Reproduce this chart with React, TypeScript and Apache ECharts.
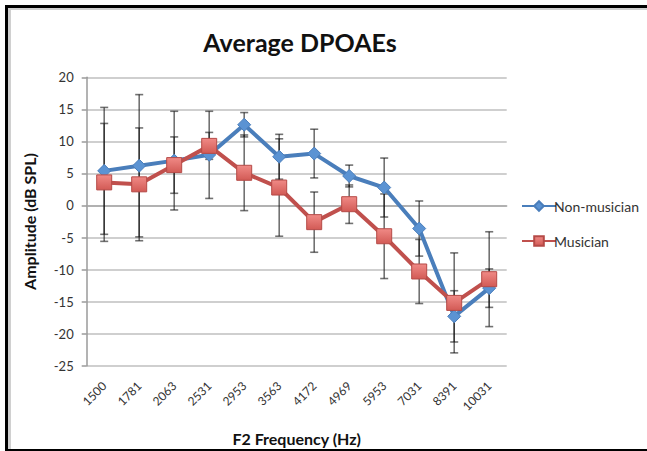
import React, { useEffect, useRef } from "react";
import * as echarts from "echarts";

const categories = ["1500", "1781", "2063", "2531", "2953", "3563", "4172", "4969", "5953", "7031", "8391", "10031"];
const nonMusician = [5.4, 6.2, 7.0, 7.9, 12.6, 7.6, 8.1, 4.6, 2.8, -3.6, -17.3, -12.9];
const musician = [3.6, 3.3, 6.3, 9.3, 5.1, 2.8, -2.6, 0.2, -4.8, -10.3, -15.2, -11.5];
const nonMusicianErr = [9.9, 11.1, 7.7, 6.8, 1.9, 3.5, 3.8, 1.7, 4.6, 4.3, 4.0, 3.0];
const musicianErr = [9.2, 8.8, 4.4, 2.1, 5.9, 7.6, 4.7, 3.0, 6.6, 5.0, 7.8, 7.4];

const FONT = "Lato, 'Open Sans', sans-serif";

function errorSeries(name: string, values: number[], errs: number[]) {
  const data = values.map((v, i) => [i, v - errs[i], v + errs[i]]);
  return {
    type: "custom",
    name: name + " err",
    z: 1,
    silent: true,
    renderItem: (params: any, api: any) => {
      const x = api.value(0);
      const lo = api.coord([x, api.value(1)]);
      const hi = api.coord([x, api.value(2)]);
      const hw = 4;
      const style = { stroke: "rgba(20,20,20,0.6)", lineWidth: 1.6 };
      return {
        type: "group",
        children: [
          { type: "line", shape: { x1: lo[0], y1: lo[1], x2: hi[0], y2: hi[1] }, style },
          { type: "line", shape: { x1: lo[0] - hw, y1: lo[1], x2: lo[0] + hw, y2: lo[1] }, style },
          { type: "line", shape: { x1: hi[0] - hw, y1: hi[1], x2: hi[0] + hw, y2: hi[1] }, style },
        ],
      };
    },
    encode: { x: 0, y: [1, 2] },
    data,
  };
}

export default function App() {
  const ref = useRef<HTMLDivElement>(null);
  useEffect(() => {
    if (!ref.current) return;
    const chart = echarts.init(ref.current, null, { renderer: "svg" });
    const blue = "#4A7EBB";
    const red = "#C0504D";
    chart.setOption({
      animation: false,
      backgroundColor: "#ffffff",
      title: {
        text: "Average DPOAEs",
        left: 295,
        textAlign: "center",
        top: 24,
        textStyle: { fontFamily: FONT, fontSize: 25, fontWeight: "bold", color: "#111" },
      },
      legend: {
        orient: "vertical",
        left: 516,
        top: 194,
        itemWidth: 34,
        itemHeight: 12,
        itemGap: 21,
        data: ["Non-musician", "Musician"],
        textStyle: { fontFamily: FONT, fontSize: 14, color: "#333", padding: [0, 0, 0, -7] },
      },
      grid: {
        left: 86.7,
        right: 140.3,
        top: 77.3,
        bottom: 85.3,
        containLabel: false,
        outerBoundsMode: "none",
      },
      xAxis: {
        type: "category",
        data: categories,
        boundaryGap: true,
        name: "F2 Frequency (Hz)",
        nameLocation: "middle",
        nameGap: 65,
        nameTextStyle: { fontFamily: FONT, fontSize: 16, fontWeight: "bold", color: "#111" },
        axisLine: { lineStyle: { color: "#a8a8a8", width: 1.5 } },
        axisTick: { show: false },
        axisLabel: { rotate: 45, fontFamily: FONT, fontSize: 12, color: "#333", margin: 18, interval: 0 },
        splitLine: { show: false },
      },
      yAxis: {
        type: "value",
        min: -25,
        max: 20,
        interval: 5,
        name: "Amplitude (dB SPL)",
        nameLocation: "middle",
        nameGap: 49,
        nameTextStyle: { fontFamily: FONT, fontSize: 16, fontWeight: "bold", color: "#111" },
        axisLine: { show: true, lineStyle: { color: "#9a9a9a", width: 1.5 } },
        axisTick: { show: true, length: 5, lineStyle: { color: "#9a9a9a", width: 1.5 } },
        axisLabel: { fontFamily: FONT, fontSize: 13, color: "#333", margin: 13 },
        splitLine: { show: true, lineStyle: { color: "#cfcfcf", width: 2 } },
      },
      series: [
        errorSeries("Non-musician", nonMusician, nonMusicianErr),
        errorSeries("Musician", musician, musicianErr),
        {
          type: "line",
          name: "Non-musician",
          data: nonMusician,
          z: 3,
          symbol: "diamond",
          symbolSize: 13,
          lineStyle: { color: blue, width: 4 },
          itemStyle: { color: "#5B93D3", borderColor: "#4A7EBB", borderWidth: 1 },
        },
        {
          type: "line",
          name: "Musician",
          data: musician,
          z: 4,
          symbol: "rect",
          symbolSize: 15,
          lineStyle: { color: red, width: 4 },
          itemStyle: {
            color: new echarts.graphic.LinearGradient(0, 0, 0, 1, [
              { offset: 0, color: "#F08A86" },
              { offset: 1, color: "#D25A55" },
            ]),
            borderColor: "#B54A47",
            borderWidth: 1,
          },
        },
      ],
      graphic: [
        { type: "rect", shape: { x: 5, y: 5, width: 3, height: 446 }, style: { fill: "#000" }, z: 100 },
        { type: "rect", shape: { x: 5, y: 5, width: 642, height: 3 }, style: { fill: "#000" }, z: 100 },
        { type: "rect", shape: { x: 5, y: 449, width: 642, height: 2 }, style: { fill: "#000" }, z: 100 },
        { type: "rect", shape: { x: 8, y: 8, width: 3, height: 441 }, style: { fill: "#d0d0d0" }, z: 100 },
        { type: "rect", shape: { x: 8, y: 8, width: 639, height: 2 }, style: { fill: "#d0d0d0" }, z: 100 },
      ],
    });
    return () => chart.dispose();
  }, []);
  return (
    <div
      ref={ref}
      style={{ position: "absolute", left: 0, top: 0, width: 647, height: 451 }}
    />
  );
}
